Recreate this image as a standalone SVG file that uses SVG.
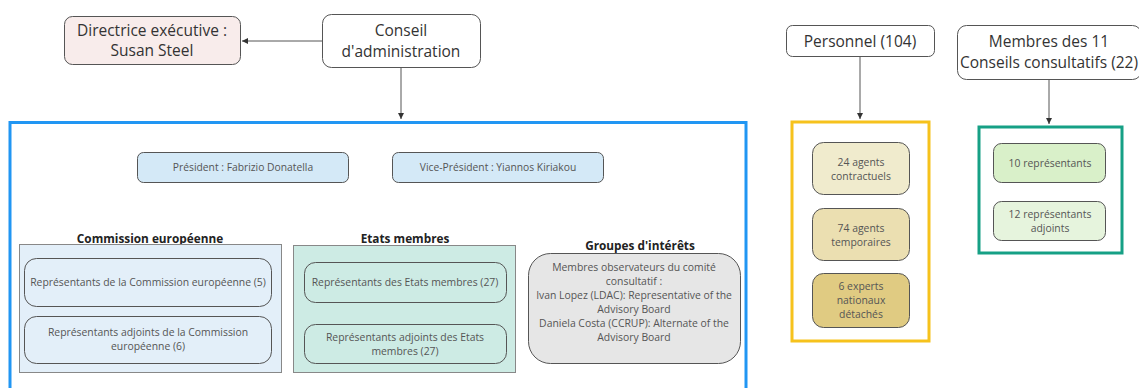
<svg xmlns="http://www.w3.org/2000/svg" width="1139" height="388" viewBox="0 0 1139 388">
<defs>
<marker id="arr" markerWidth="8" markerHeight="8" refX="6" refY="3" orient="auto" markerUnits="userSpaceOnUse">
<path d="M0,0 L6,3 L0,6 Z" fill="#333"/>
</marker>
<style>
text{font-family:"Open Sans","Noto Sans","Liberation Sans",sans-serif;text-anchor:middle;}
.big{font-size:15.5px;fill:#333;}
.sm{font-size:10.4px;fill:#555;}
.pres{font-size:10.3px;fill:#555;}
.lbl{font-size:11.8px;font-weight:bold;fill:#222;}
.node{stroke:#555;stroke-width:1;}
.conn{stroke:#555;stroke-width:1;fill:none;}
</style>
</defs>
<rect width="1139" height="388" fill="#ffffff"/>

<g id="connectors">
<line class="conn" x1="322" y1="41" x2="242" y2="41" marker-end="url(#arr)"/>
<line class="conn" x1="401" y1="67" x2="401" y2="119" marker-end="url(#arr)"/>
<line class="conn" x1="860" y1="56" x2="860" y2="119" marker-end="url(#arr)"/>
<line class="conn" x1="1049" y1="79" x2="1049" y2="124" marker-end="url(#arr)"/>
</g>

<g id="directrice">
<rect class="node" x="64.5" y="16.5" width="176" height="48" rx="8" fill="#f8eceb"/>
<text class="big" x="152" y="36">Directrice exécutive :</text>
<text class="big" x="152" y="56">Susan Steel</text>
</g>

<g id="conseil">
<rect class="node" x="322.5" y="14.5" width="158" height="53" rx="9" fill="#ffffff"/>
<text class="big" x="401" y="36">Conseil</text>
<text class="big" x="401" y="57">d'administration</text>
</g>

<g id="conseil-container">
<rect x="10" y="122.5" width="736" height="280" fill="none" stroke="#2196f3" stroke-width="3"/>
</g>

<g id="president">
<rect class="node" x="137.5" y="152.5" width="211" height="30" rx="6" fill="#d4e9f7"/>
<text class="pres" x="243" y="171">Président : Fabrizio Donatella</text>
</g>

<g id="vice-president">
<rect class="node" x="392.5" y="152.5" width="211" height="30" rx="6" fill="#d4e9f7"/>
<text class="pres" x="498" y="171">Vice-Président : Yiannos Kiriakou</text>
</g>

<g id="commission">
<text class="lbl" x="150" y="243">Commission européenne</text>
<rect x="19.5" y="244.5" width="262" height="128" fill="#e3eff9" stroke="#888" stroke-width="1"/>
</g>
<g id="rep-commission">
<rect class="node" x="24.5" y="258.5" width="247" height="48" rx="12" fill="#e3eff9"/>
<text class="sm" x="148" y="286">Représentants de la Commission européenne (5)</text>
</g>
<g id="rep-adj-commission">
<rect class="node" x="24.5" y="316.5" width="247" height="47" rx="12" fill="#e3eff9"/>
<text class="sm" x="148" y="336">Représentants adjoints de la Commission</text>
<text class="sm" x="148" y="350">européenne (6)</text>
</g>

<g id="etats">
<text class="lbl" x="405" y="243">Etats membres</text>
<rect x="293.5" y="245.5" width="222" height="127" fill="#cdebe4" stroke="#888" stroke-width="1"/>
</g>
<g id="rep-etats">
<rect class="node" x="304.5" y="262.5" width="202" height="40" rx="11" fill="#cdebe4"/>
<text class="sm" x="405" y="286">Représentants des Etats membres (27)</text>
</g>
<g id="rep-adj-etats">
<rect class="node" x="304.5" y="324.5" width="202" height="39" rx="11" fill="#cdebe4"/>
<text class="sm" x="405" y="341">Représentants adjoints des Etats</text>
<text class="sm" x="405" y="355">membres (27)</text>
</g>

<g id="groupes">
<text class="lbl" x="640" y="250">Groupes d'intérêts</text>
<rect class="node" x="528.5" y="253.5" width="212" height="110" rx="22" fill="#e6e6e6"/>
<text class="sm" x="634" y="271">Membres observateurs du comité</text>
<text class="sm" x="634" y="285">consultatif :</text>
<text class="sm" x="634" y="299">Ivan Lopez (LDAC): Representative of the</text>
<text class="sm" x="634" y="313">Advisory Board</text>
<text class="sm" x="634" y="327">Daniela Costa (CCRUP): Alternate of the</text>
<text class="sm" x="634" y="341">Advisory Board</text>
</g>

<g id="personnel">
<rect class="node" x="786.5" y="25.5" width="148" height="31" rx="6" fill="#ffffff"/>
<text class="big" x="860" y="46.5">Personnel (104)</text>
</g>

<g id="personnel-container">
<rect x="792" y="122" width="137" height="219" fill="none" stroke="#f6c21c" stroke-width="3"/>
</g>
<g id="agents-contractuels">
<rect class="node" x="812.5" y="142.5" width="97" height="52" rx="11" fill="#f0ebcd"/>
<text class="sm" x="861" y="166">24 agents</text>
<text class="sm" x="861" y="180">contractuels</text>
</g>
<g id="agents-temporaires">
<rect class="node" x="812.5" y="208.5" width="97" height="52" rx="11" fill="#ebdfb1"/>
<text class="sm" x="861" y="231.5">74 agents</text>
<text class="sm" x="861" y="245.5">temporaires</text>
</g>
<g id="experts">
<rect class="node" x="812.5" y="273.5" width="97" height="54" rx="11" fill="#e0cb82"/>
<text class="sm" x="861" y="290">6 experts</text>
<text class="sm" x="861" y="304">nationaux</text>
<text class="sm" x="861" y="318">détachés</text>
</g>

<g id="membres">
<rect class="node" x="957.5" y="25.5" width="184" height="54" rx="9" fill="#ffffff"/>
<text class="big" x="1049" y="47">Membres des 11</text>
<text class="big" x="1049" y="68">Conseils consultatifs (22)</text>
</g>

<g id="membres-container">
<rect x="979" y="127" width="143" height="126" fill="none" stroke="#16a085" stroke-width="3"/>
</g>
<g id="representants">
<rect class="node" x="993.5" y="143.5" width="112" height="39" rx="8" fill="#d9f0c9"/>
<text class="sm" x="1050" y="166.5">10 représentants</text>
</g>
<g id="representants-adjoints">
<rect class="node" x="993.5" y="201.5" width="112" height="39" rx="8" fill="#e6f4dd"/>
<text class="sm" x="1050" y="218">12 représentants</text>
<text class="sm" x="1050" y="232">adjoints</text>
</g>
</svg>
